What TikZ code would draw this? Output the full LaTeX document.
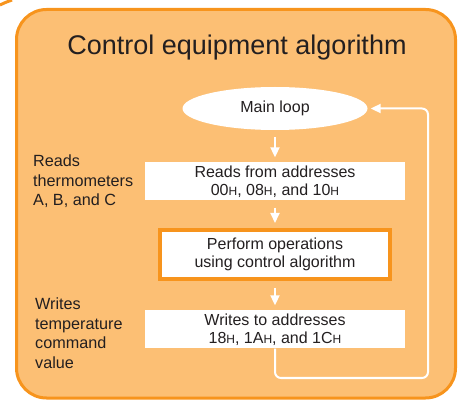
\documentclass[tikz,border=0pt]{standalone}
\usepackage{fontspec}
\setmainfont{Liberation Sans}
\usepackage{tikz}
\usetikzlibrary{shapes,arrows.meta,positioning}
\definecolor{panelorange}{RGB}{247,148,29}
\definecolor{panelfill}{RGB}{252,191,116}
\definecolor{inkgray}{RGB}{35,31,32}
\newcommand{\boxfont}{\fontsize{16}{18}\selectfont}
\newcommand{\hsub}{{\fontsize{12}{12}\selectfont H}}
\tikzstyle{block} = [fill=white, rectangle, inner sep=0pt, align=center, text=inkgray,
    minimum height=38pt, minimum width=260pt, font=\boxfont]
\tikzstyle{hotblock} = [block, draw=panelorange, line width=4pt,
    minimum height=49pt, minimum width=230pt]
\tikzstyle{loopnode} = [ellipse, fill=white, inner sep=0pt, text=inkgray,
    minimum height=43pt, minimum width=185pt, font=\boxfont]
\tikzstyle{note} = [anchor=north west, align=left, inner sep=0pt, text=inkgray,
    font=\fontsize{16.2}{19.5}\selectfont]
\tikzstyle{flow} = [->, white, line width=2pt, shorten >=5pt, shorten <=7pt]

\begin{document}
\begin{tikzpicture}[x=1pt, y=-1pt, node distance=73pt, >={Triangle[length=10pt,width=9pt]}]
\useasboundingbox (0,0) rectangle (464,401);

% panel
\draw [panelorange, line width=3pt, fill=panelfill, rounded corners=30pt] (16.5,9.5) rectangle (455.5,398);
\draw [panelorange, line width=3pt] (0,5) .. controls (4,3) .. (12,0);
\node [text=inkgray, font=\fontsize{27}{27}\selectfont] (title) at (237,47.5) {Control equipment algorithm};

\node [loopnode] (mainloop) at (275,108.5) {Main loop};
\node [block, below of=mainloop] (reader) {Reads from addresses\\00\hsub, 08\hsub, and 10\hsub};
\node [hotblock, below of=reader] (operator) {Perform operations\\using control algorithm};
\node [block, below of=operator, node distance=75pt] (writer) {Writes to addresses\\ 18\hsub, 1A\hsub, and 1C\hsub};
\node [note] (readnote) at (33,155) {Reads\\thermometers\\A, B, and C};
\node [note] (writenote) at (35,298) {Writes\\temperature\\command\\value};
\coordinate (turn) at (428,378);

\draw [flow] (mainloop) -- (reader);
\draw [flow] (reader) -- (operator);
\draw [flow] (operator) -- (writer);
\draw [flow, shorten <=0pt, shorten >=3pt, rounded corners=6pt] (writer.south) |- (turn) |- (mainloop.east);

\end{tikzpicture}
\end{document}
